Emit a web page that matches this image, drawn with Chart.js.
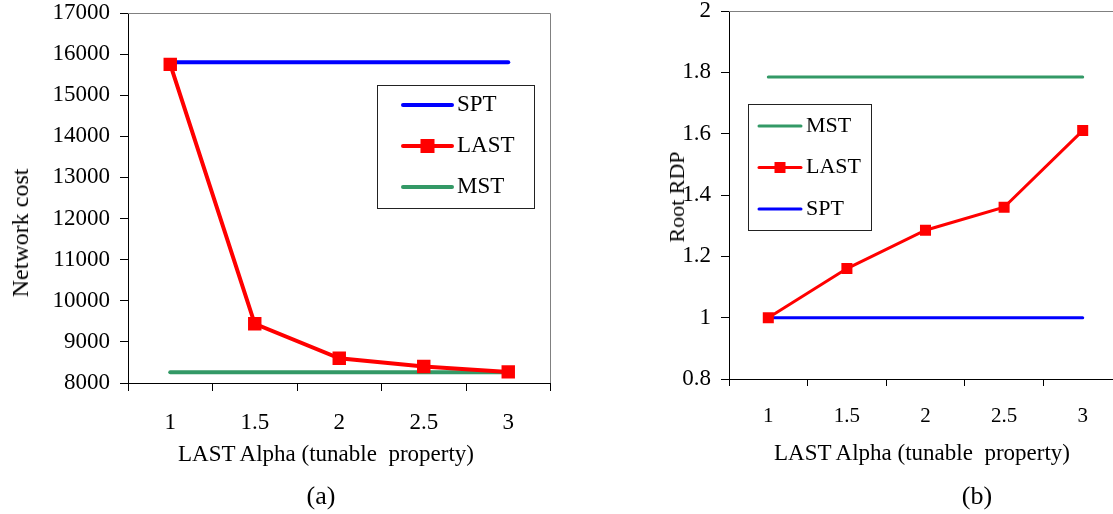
<!DOCTYPE html>
<html>
<head>
<meta charset="utf-8">
<script src="https://cdn.jsdelivr.net/npm/chart.js@4.4.1/dist/chart.umd.min.js"></script>
<style>
  html, body { margin: 0; padding: 0; background: #fff; }
  body { width: 1113px; height: 514px; overflow: hidden; position: relative; }
  canvas { position: absolute; top: 0; }
  #costChart { left: 0; }
  #rdpChart { left: 560px; }
  .lbl {
    position: absolute; white-space: pre; color: #000; line-height: 1;
    font-family: "Liberation Serif", "Times New Roman", serif;
    transform: translate(-50%, -50%);
  }
  .rot { transform: translate(-50%, -50%) rotate(-90deg); }
</style>
</head>
<body>
<canvas id="costChart" width="560" height="514"></canvas>
<canvas id="rdpChart" width="575" height="514"></canvas>

<div class="lbl rot" style="left:20px; top:233px; font-size:24px;">Network cost</div>
<div class="lbl" style="left:326px; top:453px; font-size:23px;">LAST Alpha (tunable  property)</div>
<div class="lbl" style="left:321px; top:496px; font-size:26px;">(a)</div>

<div class="lbl rot" style="left:677px; top:197px; font-size:22px;">Root RDP</div>
<div class="lbl" style="left:922px; top:452px; font-size:23px;">LAST Alpha (tunable  property)</div>
<div class="lbl" style="left:977px; top:496px; font-size:26px;">(b)</div>

<script>
// Categories (LAST alpha)
const categories = ["1", "1.5", "2", "2.5", "3"];

// (a) Network cost
const costSPT = [15800, 15800, 15800, 15800, 15800];
const costLAST = [15750, 9440, 8600, 8400, 8270];
const costMST = [8260, 8260, 8260, 8260, 8260];
const costTicks = [8000, 9000, 10000, 11000, 12000, 13000, 14000, 15000, 16000, 17000];

// (b) Root RDP
const rdpMST = [1.785, 1.785, 1.785, 1.785, 1.785];
const rdpLAST = [1.0, 1.16, 1.285, 1.36, 1.61];
const rdpSPT = [1.0, 1.0, 1.0, 1.0, 1.0];
const rdpTicks = [0.8, 1, 1.2, 1.4, 1.6, 1.8, 2];

const BLUE = "#0000ff";
const RED = "#ff0000";
const GREEN = "#339966";
const SERIF = '"Liberation Serif", "Times New Roman", serif';

// gray top (and right) edge of the plot box
const plotBox = {
  id: "plotBox",
  beforeDatasetsDraw(chart, args, o) {
    const { ctx, chartArea: a } = chart;
    const top = Math.round(a.top) + 0.5;
    const right = Math.round(a.right) - 0.5;
    ctx.save();
    ctx.strokeStyle = "#808080";
    ctx.lineWidth = 1;
    ctx.beginPath();
    ctx.moveTo(a.left, top);
    ctx.lineTo(right, top);
    if (o.rightEdge) ctx.lineTo(right, a.bottom);
    ctx.stroke();
    ctx.restore();
  },
};

// framed legend inside the plot, like the Excel one
const boxLegend = {
  id: "boxLegend",
  afterDraw(chart, args, o) {
    const ctx = chart.ctx;
    ctx.save();
    ctx.fillStyle = "#fff";
    ctx.fillRect(o.x, o.y, o.w, o.h);
    ctx.strokeStyle = "#222";
    ctx.lineWidth = 1;
    ctx.strokeRect(o.x + 0.5, o.y + 0.5, o.w, o.h);
    ctx.font = o.fontSize + "px " + SERIF;
    ctx.textBaseline = "middle";
    chart.data.datasets.forEach((ds, i) => {
      const y = o.y + o.first + i * o.gap;
      ctx.strokeStyle = ds.borderColor;
      ctx.lineWidth = ds.borderWidth;
      ctx.lineCap = "round";
      ctx.beginPath();
      ctx.moveTo(o.x + o.lineFrom, y);
      ctx.lineTo(o.x + o.lineTo, y);
      ctx.stroke();
      if (ds.pointRadius > 0) {
        const s = o.marker;
        ctx.fillStyle = ds.borderColor;
        ctx.fillRect(o.x + (o.lineFrom + o.lineTo) / 2 - s / 2, y - s / 2, s, s);
      }
      ctx.fillStyle = "#000";
      ctx.fillText(ds.label, o.x + o.textAt, y);
    });
    ctx.restore();
  },
};

function line(label, data, color, width, radius, order) {
  return {
    label: label,
    data: data,
    borderColor: color,
    backgroundColor: color,
    borderWidth: width,
    borderCapStyle: "round",
    pointStyle: "rect",
    pointRadius: radius,
    pointHoverRadius: radius,
    pointBorderWidth: 0,
    pointBackgroundColor: color,
    tension: 0,
    order: order,
  };
}

function makeChart(id, datasets, ticksList, opt) {
  const ctx = document.getElementById(id).getContext("2d");
  return new Chart(ctx, {
    type: "line",
    data: { labels: categories, datasets: datasets },
    options: {
      responsive: false,
      animation: false,
      layout: { padding: { left: 0, top: opt.top, right: opt.right, bottom: 0 } },
      plugins: {
        legend: { display: false },
        tooltip: { enabled: false },
        boxLegend: opt.legend,
        plotBox: { rightEdge: opt.rightEdge },
      },
      scales: {
        x: {
          type: "category",
          offset: true,
          grid: { offset: true, drawOnChartArea: false, drawTicks: true, tickLength: opt.xTick, color: "#000", lineWidth: 1 },
          border: { color: "#000", width: 1 },
          ticks: { color: "#000", padding: 20, maxRotation: 0, font: { family: SERIF, size: opt.xFont, lineHeight: 1 } },
          afterFit: (s) => {
            s.height = opt.xHeight;
            s.paddingLeft = 0;
            s.paddingRight = 0;
          },
        },
        y: {
          min: ticksList[0],
          max: ticksList[ticksList.length - 1],
          afterBuildTicks: (s) => { s.ticks = ticksList.map((v) => ({ value: v })); },
          grid: { drawOnChartArea: false, drawTicks: true, tickLength: 8, color: "#000", lineWidth: 1 },
          border: { color: "#000", width: 1 },
          ticks: { color: "#000", padding: 10, font: { family: SERIF, size: 23, lineHeight: 1 }, callback: (v) => String(v) },
          afterFit: (s) => {
            s.width = opt.yWidth;
            s.paddingTop = 0;
            s.paddingBottom = 0;
          },
        },
      },
    },
    plugins: [plotBox, boxLegend],
  });
}

function drawAll() {
  makeChart("costChart", [
    line("SPT", costSPT, BLUE, 4, 0, 1),
    line("LAST", costLAST, RED, 4, 9.5, 0),
    line("MST", costMST, GREEN, 4, 0, 2),
  ], costTicks, {
    top: 13, right: 2, yWidth: 128, xHeight: 131, xTick: 8, xFont: 23, rightEdge: true,
    legend: { x: 377, y: 85, w: 157, h: 123, first: 20, gap: 41, lineFrom: 26, lineTo: 75, textAt: 80, marker: 14, fontSize: 23 },
  });

  // right plot runs past the page edge, as in the reference
  makeChart("rdpChart", [
    line("MST", rdpMST, GREEN, 3, 0, 2),
    line("LAST", rdpLAST, RED, 3, 7.8, 0),
    line("SPT", rdpSPT, BLUE, 3, 0, 1),
  ], rdpTicks, {
    top: 11, right: 13, yWidth: 169, xHeight: 135, xTick: 7, xFont: 21, rightEdge: false,
    legend: { x: 188, y: 104, w: 123, h: 126, first: 22, gap: 41.5, lineFrom: 11, lineTo: 53, textAt: 58, marker: 11, fontSize: 22 },
  });
}

// canvas text needs the serif face ready before drawing
if (document.fonts && document.fonts.load) {
  document.fonts.load('23px "Liberation Serif"').then(drawAll, drawAll);
} else {
  drawAll();
}
</script>
</body>
</html>
